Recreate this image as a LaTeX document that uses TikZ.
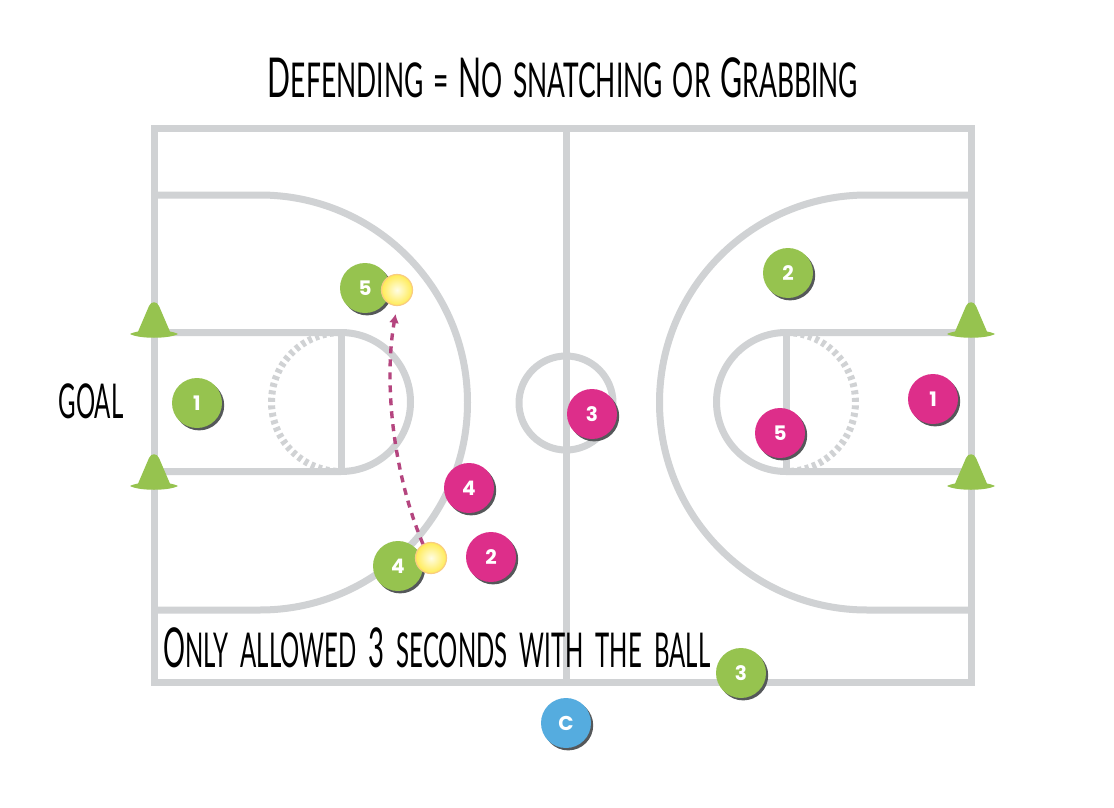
\documentclass[tikz,border=0pt]{standalone}
\usepackage{fontspec}
\usetikzlibrary{shadows,arrows.meta}
\newfontfamily\handfont[FakeStretch=0.5]{Lato}
\newfontfamily\titlefont[FakeStretch=0.55]{Lato}
\newfontfamily\tokenfont[Scale=1]{Poppins}
\definecolor{courtgray}{HTML}{D0D2D4}
\definecolor{teamgreen}{HTML}{96C34F}
\definecolor{teampink}{HTML}{DD2E8A}
\definecolor{coachblue}{HTML}{55ACDF}
\definecolor{pathpurple}{HTML}{B5457F}
\definecolor{shadowgray}{HTML}{55585A}
\definecolor{ballrim}{HTML}{F9CC80}
\definecolor{ballouter}{HTML}{FFEB55}
\definecolor{ballinner}{HTML}{FFFDE4}
\newcommand{\bigc}[1]{{\fontsize{55}{55}\selectfont #1}}
\newcommand{\smc}[1]{{\fontsize{48}{48}\selectfont #1}}
\newcommand{\gap}{\hspace{10pt}}
\newcommand{\gapb}{\hspace{12pt}}
\tikzset{
  court/.style={draw=courtgray,line width=7pt},
  keydash/.style={draw=courtgray,line width=7pt,dash pattern=on 4pt off 3.5pt},
  token/.style={circle,minimum size=50pt,inner sep=0pt,text=white,
    font=\tokenfont\bfseries\fontsize{20}{20}\selectfont,
    general shadow={fill=shadowgray,shadow xshift=2.2pt,shadow yshift=-2.4pt}},
  greentoken/.style={token,fill=teamgreen},
  pinktoken/.style={token,fill=teampink},
  bluetoken/.style={token,fill=coachblue},
  ball/.style={circle,minimum size=31pt,inner sep=0pt,draw=ballrim,line width=1.2pt,
    inner color=ballinner,outer color=ballouter},
  runpath/.style={draw=pathpurple,line width=3.4pt,dash pattern=on 7pt off 6pt,
    -{Latex[length=9pt,width=10pt]}},
  handtext/.style={inner sep=0pt,text=black,font=\handfont},
  titletext/.style={inner sep=0pt,text=black,font=\titlefont},
  conemark/.pic={
    \fill[teamgreen] (-24,0) .. controls (-15,-5) and (15,-5) .. (24,0)
      .. controls (15,5) and (-15,5) .. (-24,0) -- cycle;
    \fill[teamgreen] (-17,0) -- (-5,-28) .. controls (-3,-33) and (3,-33) .. (5,-28) -- (17,0) -- cycle;
  }
}
\begin{document}
\begin{tikzpicture}[x=1pt,y=-1pt]
\useasboundingbox (0,0) rectangle (1114,808);
\fill[white] (0,0) rectangle (1114,808);
% court
\draw[court] (154,128) rectangle (971,682);
\draw[court] (566,128) -- (566,682);
\draw[court] (566,403) circle[radius=47pt];
% left half
\draw[court] (154,195) -- (260,195) arc[start angle=90,end angle=-90,radius=207.5pt] -- (154,610);
\draw[court] (154,332.5) -- (341,332.5) arc[start angle=90,end angle=-90,radius=69.5pt] -- (154,471.5);
\draw[court] (341,332.5) -- (341,471.5);
\draw[keydash] (341,332.5) arc[start angle=90,end angle=270,radius=69.5pt];
% right half
\draw[court] (971,195) -- (867,195) arc[start angle=90,end angle=270,radius=207.5pt] -- (971,610);
\draw[court] (971,332.5) -- (786,332.5) arc[start angle=90,end angle=270,radius=69.5pt] -- (971,471.5);
\draw[court] (786,332.5) -- (786,471.5);
\draw[keydash] (786,332.5) arc[start angle=90,end angle=-90,radius=69.5pt];
% cones
\pic at (154,334) {conemark};
\pic at (154,486) {conemark};
\pic at (971,334) {conemark};
\pic at (971,486) {conemark};
% texts
\node[titletext,anchor=base] (title) at (563,97)
  {\bigc{D}\smc{EFENDING}\gap\smc{=}\gap\bigc{N}\smc{O}\gap\smc{SNATCHING}\gap\smc{OR}\gap\bigc{G}\smc{RABBING}};
\node[handtext,anchor=base] (goal) at (91,418) {\smc{GOAL}};
\node[handtext,anchor=base west] (rule) at (163,667)
  {\bigc{O}\smc{NLY}\gapb\smc{ALLOWED}\gapb\bigc{3}\gapb\smc{SECONDS}\gapb\smc{WITH}\gapb\smc{THE}\gapb\smc{BALL}};
% tokens
\node[greentoken] (g5) at (365,288) {5};
\node[greentoken] (g1) at (197,403) {1};
\node[greentoken] (g4) at (398,566) {4};
\node[greentoken] (g3) at (741,673) {3};
\node[greentoken] (g2) at (788,273) {2};
\node[pinktoken] (p4) at (469,488) {4};
\node[pinktoken] (p2) at (491,557) {2};
\node[pinktoken] (p3) at (592,414) {3};
\node[pinktoken] (p5) at (780,433) {5};
\node[pinktoken] (p1) at (933,399) {1};
\node[bluetoken] (c) at (566,723) {C};
% balls
\node[ball] (ballA) at (397,290) {};
\node[ball] (ballB) at (431,558) {};
% run
\draw[runpath,shorten >=8pt] (ballB.120) .. controls (392,470) and (384,380) .. (ballA.south);
\end{tikzpicture}
\end{document}
